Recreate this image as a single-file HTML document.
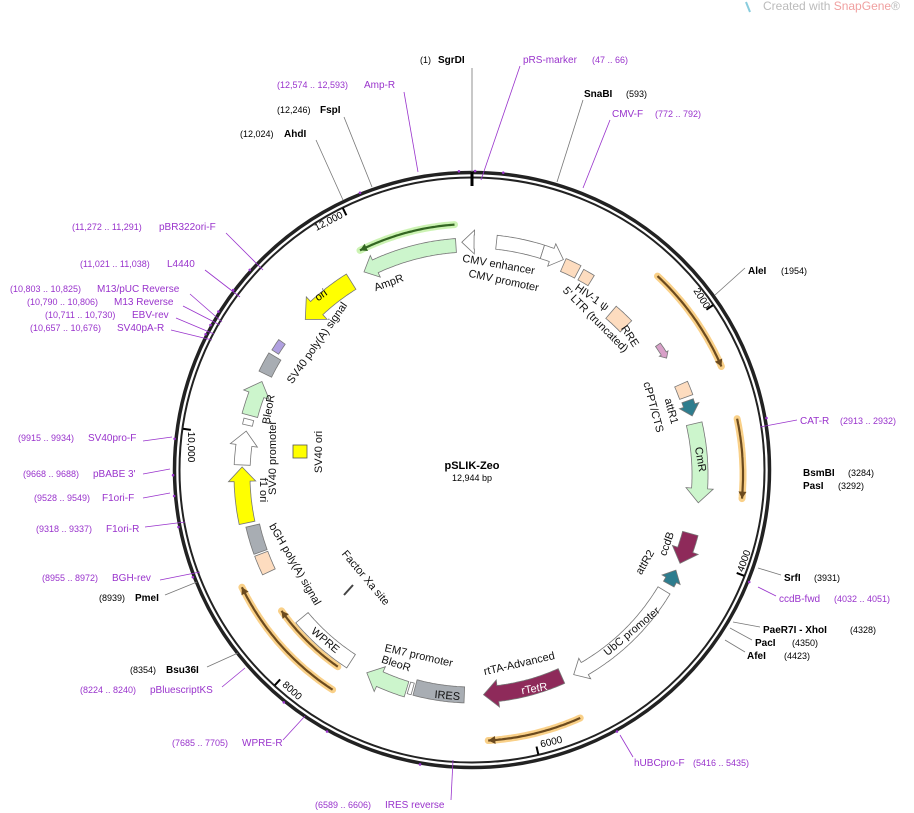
<!DOCTYPE html>
<html><head><meta charset="utf-8"><style>
body{margin:0;background:#fff;width:914px;height:813px;overflow:hidden}
svg{display:block}
text{font-family:"Liberation Sans","DejaVu Sans",sans-serif}
.p{fill:#9933cc;font-size:10px}
.pc{fill:#9933cc;font-size:9px}
.b{fill:#000;font-size:10px;font-weight:bold}
.c{fill:#000;font-size:9px}
.f{fill:#111;font-size:11px}
.lp{stroke:#9933cc;stroke-width:0.8;fill:none}
.lg{stroke:#777;stroke-width:0.8;fill:none}
</style></head><body>
<svg id="s" width="914" height="813" viewBox="0 0 914 813" xmlns="http://www.w3.org/2000/svg">
<text x="763" y="10" font-size="12" fill="#bbb">Created with <tspan fill="#f0a0a0">SnapGene</tspan>®</text>
<path d="M746 2 L750 12" stroke="#8cd" stroke-width="2"/>
<!-- ring -->
<circle cx="472" cy="470" r="297.5" fill="none" stroke="#222" stroke-width="3.5"/>
<circle cx="472" cy="470" r="292.5" fill="none" stroke="#222" stroke-width="2"/>
<line x1="472" y1="172" x2="472" y2="186" stroke="#000" stroke-width="3"/>
<g id="shapes"></g>

<!-- leader lines -->
<line class="lg" x1="472" y1="172" x2="472" y2="68"/>
<path class="lp" d="M481 180 L520 66"/>
<path class="lg" d="M557 182 L583 100"/>
<path class="lp" d="M583 188 L610 120"/>
<path class="lp" d="M404 92 L418 172"/>
<path class="lg" d="M344 117 L372 187"/>
<path class="lg" d="M316 140 L343 200"/>
<path class="lp" d="M226 233 L263 270"/>
<path class="lp" d="M205 270 L240 297"/>
<path class="lp" d="M190 294 L222 322"/>
<path class="lp" d="M183 306 L220 325"/>
<path class="lp" d="M176 318 L214 334"/>
<path class="lp" d="M171 330 L212 340"/>
<path class="lp" d="M143 441 L172 437"/>
<path class="lp" d="M143 474 L170 469"/>
<path class="lp" d="M143 498 L170 493"/>
<path class="lp" d="M145 527 L185 522"/>
<path class="lp" d="M160 580 L200 572"/>
<path class="lg" d="M165 595 L197 582"/>
<path class="lg" d="M207 667 L238 653"/>
<path class="lp" d="M222 687 L245 668"/>
<path class="lp" d="M283 740 L305 716"/>
<path class="lp" d="M451 800 L453 760"/>
<path class="lp" d="M633 757 L620 735"/>
<path class="lg" d="M745 652 L725 640"/>
<path class="lg" d="M752 640 L730 628"/>
<path class="lg" d="M760 627 L733 622"/>
<path class="lp" d="M776 596 L758 587"/>
<path class="lg" d="M781 575 L758 568"/>
<path class="lp" d="M797 420 L760 427"/>
<path class="lg" d="M745 268 L715 295"/>

<!-- outer labels -->
<text x="420" y="63" class="c">(1)</text><text x="438" y="63" class="b">SgrDI</text>
<text x="523" y="63" class="p">pRS-marker</text><text x="592" y="63" class="pc">(47 .. 66)</text>
<text x="584" y="97" class="b">SnaBI</text><text x="626" y="97" class="c">(593)</text>
<text x="612" y="117" class="p">CMV-F</text><text x="655" y="117" class="pc">(772 .. 792)</text>
<text x="277" y="88" class="pc">(12,574 .. 12,593)</text><text x="364" y="88" class="p">Amp-R</text>
<text x="277" y="113" class="c">(12,246)</text><text x="320" y="113" class="b">FspI</text>
<text x="240" y="137" class="c">(12,024)</text><text x="284" y="137" class="b">AhdI</text>
<text x="72" y="230" class="pc">(11,272 .. 11,291)</text><text x="159" y="230" class="p">pBR322ori-F</text>
<text x="80" y="267" class="pc">(11,021 .. 11,038)</text><text x="167" y="267" class="p">L4440</text>
<text x="10" y="292" class="pc">(10,803 .. 10,825)</text><text x="97" y="292" class="p">M13/pUC Reverse</text>
<text x="27" y="305" class="pc">(10,790 .. 10,806)</text><text x="114" y="305" class="p">M13 Reverse</text>
<text x="45" y="318" class="pc">(10,711 .. 10,730)</text><text x="132" y="318" class="p">EBV-rev</text>
<text x="30" y="331" class="pc">(10,657 .. 10,676)</text><text x="117" y="331" class="p">SV40pA-R</text>
<text x="18" y="441" class="pc">(9915 .. 9934)</text><text x="88" y="441" class="p">SV40pro-F</text>
<text x="23" y="477" class="pc">(9668 .. 9688)</text><text x="93" y="477" class="p">pBABE 3'</text>
<text x="34" y="501" class="pc">(9528 .. 9549)</text><text x="102" y="501" class="p">F1ori-F</text>
<text x="36" y="532" class="pc">(9318 .. 9337)</text><text x="106" y="532" class="p">F1ori-R</text>
<text x="42" y="581" class="pc">(8955 .. 8972)</text><text x="112" y="581" class="p">BGH-rev</text>
<text x="99" y="601" class="c">(8939)</text><text x="135" y="601" class="b">PmeI</text>
<text x="130" y="673" class="c">(8354)</text><text x="166" y="673" class="b">Bsu36I</text>
<text x="80" y="693" class="pc">(8224 .. 8240)</text><text x="150" y="693" class="p">pBluescriptKS</text>
<text x="172" y="746" class="pc">(7685 .. 7705)</text><text x="242" y="746" class="p">WPRE-R</text>
<text x="315" y="808" class="pc">(6589 .. 6606)</text><text x="385" y="808" class="p">IRES reverse</text>
<text x="634" y="766" class="p">hUBCpro-F</text><text x="693" y="766" class="pc">(5416 .. 5435)</text>
<text x="747" y="659" class="b">AfeI</text><text x="784" y="659" class="c">(4423)</text>
<text x="755" y="646" class="b">PacI</text><text x="792" y="646" class="c">(4350)</text>
<text x="763" y="633" class="b">PaeR7I - XhoI</text><text x="850" y="633" class="c">(4328)</text>
<text x="779" y="602" class="p">ccdB-fwd</text><text x="834" y="602" class="pc">(4032 .. 4051)</text>
<text x="784" y="581" class="b">SrfI</text><text x="814" y="581" class="c">(3931)</text>
<text x="803" y="476" class="b">BsmBI</text><text x="848" y="476" class="c">(3284)</text>
<text x="803" y="489" class="b">PasI</text><text x="838" y="489" class="c">(3292)</text>
<text x="800" y="424" class="p">CAT-R</text><text x="840" y="424" class="pc">(2913 .. 2932)</text>
<text x="748" y="274" class="b">AleI</text><text x="781" y="274" class="c">(1954)</text>

<!-- tick labels -->
<text font-size="10" transform="translate(699,300) rotate(58)" text-anchor="middle">2000</text>
<text font-size="10" transform="translate(747,562) rotate(-70)" text-anchor="middle">4000</text>
<text font-size="10" transform="translate(552,745) rotate(-13)" text-anchor="middle">6000</text>
<text font-size="10" transform="translate(290,693) rotate(42)" text-anchor="middle">8000</text>
<text font-size="10" transform="translate(188,447) rotate(90)" text-anchor="middle">10,000</text>
<text font-size="10" transform="translate(330,224) rotate(-27)" text-anchor="middle">12,000</text>

<!-- center -->
<text x="472" y="469" text-anchor="middle" font-size="11" font-weight="bold">pSLIK-Zeo</text>
<text x="472" y="481" text-anchor="middle" font-size="9">12,944 bp</text>

<!-- feature labels -->
<text class="f" transform="translate(498,268) rotate(10)" text-anchor="middle">CMV enhancer</text>
<text class="f" transform="translate(503,284) rotate(12)" text-anchor="middle">CMV promoter</text>
<text class="f" transform="translate(390,286) rotate(-20)" text-anchor="middle">AmpR</text>
<text class="f" transform="translate(590,300) rotate(35)" text-anchor="middle">HIV-1 ψ</text>
<text class="f" transform="translate(593,322) rotate(45)" text-anchor="middle">5' LTR (truncated)</text>
<text class="f" transform="translate(627,338) rotate(57)" text-anchor="middle">RRE</text>
<text class="f" transform="translate(650,408) rotate(75)" text-anchor="middle">cPPT/CTS</text>
<text class="f" transform="translate(668,412) rotate(75)" text-anchor="middle">attR1</text>
<text class="f" transform="translate(697,460) rotate(80)" text-anchor="middle">CmR</text>
<text class="f" transform="translate(670,545) rotate(-70)" text-anchor="middle">ccdB</text>
<text class="f" transform="translate(648,564) rotate(-60)" text-anchor="middle">attR2</text>
<text class="f" transform="translate(634,634) rotate(-40)" text-anchor="middle">UbC promoter</text>
<text class="f" transform="translate(520,667) rotate(-13)" text-anchor="middle">rtTA-Advanced</text>
<text class="f" transform="translate(535,692) rotate(-10)" text-anchor="middle" style="fill:#fff">rTetR</text>
<text class="f" transform="translate(447,699) rotate(5)" text-anchor="middle">IRES</text>
<text class="f" transform="translate(418,659) rotate(13)" text-anchor="middle">EM7 promoter</text>
<text class="f" transform="translate(395,667) rotate(18)" text-anchor="middle">BleoR</text>
<text class="f" transform="translate(323,643) rotate(40)" text-anchor="middle">WPRE</text>
<text class="f" transform="translate(292,566) rotate(60)" text-anchor="middle">bGH poly(A) signal</text>
<text class="f" transform="translate(363,580) rotate(50)" text-anchor="middle">Factor Xa site</text>
<text class="f" transform="translate(260,490) rotate(90)" text-anchor="middle">f1 ori</text>
<text class="f" transform="translate(276,458) rotate(-90)" text-anchor="middle">SV40 promoter</text>
<text class="f" transform="translate(272,410) rotate(-80)" text-anchor="middle">BleoR</text>
<text class="f" transform="translate(322,452) rotate(-90)" text-anchor="middle">SV40 ori</text>
<text class="f" transform="translate(320,345) rotate(-55)" text-anchor="middle">SV40 poly(A) signal</text>
<rect x="293" y="445" width="14" height="13" fill="#ffff00" stroke="#555" stroke-width="0.8"/>
<line x1="344" y1="595" x2="353" y2="585" stroke="#444" stroke-width="2"/>
<g id="top"><text transform="translate(323,298) rotate(-35)" text-anchor="middle" font-size="11">ori</text></g>
</svg>
<script>
var cx=472,cy=475,NS="http://www.w3.org/2000/svg";
function P(r,a,c){a=a*Math.PI/180;return [cx+r*Math.sin(a),(c||cy)-r*Math.cos(a)];}
function pts(r,a1,a2){var o=[],n=Math.max(2,Math.ceil(Math.abs(a2-a1)*2));for(var i=0;i<=n;i++)o.push(P(r,a1+(a2-a1)*i/n));return o;}
function add(g,tag,attrs){var e=document.createElementNS(NS,tag);for(var k in attrs)e.setAttribute(k,attrs[k]);document.getElementById(g).appendChild(e);return e;}
function poly(list){return list.map(function(p){return p[0].toFixed(1)+","+p[1].toFixed(1)}).join(" ");}
function feat(r,w,a1,a2,head,fill,stroke){
 var h=w*0.9/r*180/Math.PI, list=[];
 if(head==1){var e=a2-h;list=pts(r+w/2,a1,e);list.push(P(r+w*0.85,e));list.push(P(r,a2));list.push(P(r-w*0.85,e));list=list.concat(pts(r-w/2,e,a1));}
 else if(head==-1){var s=a1+h;list=[P(r,a1),P(r+w*0.85,s)].concat(pts(r+w/2,s,a2)).concat(pts(r-w/2,a2,s));list.push(P(r-w*0.85,s));}
 else{list=pts(r+w/2,a1,a2).concat(pts(r-w/2,a2,a1));}
 add("shapes","polygon",{points:poly(list),fill:fill,stroke:stroke||"#777","stroke-width":0.8});
}
function primer(r,a1,a2,head,col,glow){
 var d="M"+poly(pts(r,a1,a2)).split(" ").join(" L");
 add("shapes","path",{d:d,stroke:glow,"stroke-width":7,fill:"none","stroke-linecap":"round",opacity:0.8});
 add("shapes","path",{d:d,stroke:col,"stroke-width":2.2,fill:"none"});
 var t=head==1?a2:a1, b=head==1?a2-7*180/Math.PI/r:a1+7*180/Math.PI/r;
 add("shapes","polygon",{points:poly([P(r+4,b),P(r,t),P(r-4,b)]),fill:col});
}
[2000,4000,6000,8000,10000,12000].forEach(function(b){var a=b/12944*360;var p1=P(284,a,470),p2=P(292,a,470);add("shapes","line",{x1:p1[0],y1:p1[1],x2:p2[0],y2:p2[1],stroke:"#000","stroke-width":2});});
[0.6,6,-2.5,-22,-48,-53,-58,-61,-63,-84,-91,-95,-101,-111,-141,-151,-170,80,112,151].forEach(function(a){var p=P(299,a,470);add("shapes","circle",{cx:p[0],cy:p[1],r:1.3,fill:"#9933cc"});});
primer(272,43,66.5,1,"#6b4a1e","#f8c46a");
primer(271,78,95,1,"#6b4a1e","#f8c46a");
primer(266,156,176.5,1,"#6b4a1e","#f8c46a");
primer(256,213,244,1,"#6b4a1e","#f8c46a");
primer(234,215,234.5,1,"#6b4a1e","#f8c46a");
primer(251,-26.5,-4,-1,"#336622","#bff0a0");
feat(230,14,-28,-4,-1,"#ccf5cc");
feat(233,14,-2.5,0.5,-1,"#fff");
feat(234,14,6,17.5,0,"#fff");
feat(234,14,17.5,23,1,"#fff");
feat(229,14,23.5,27.5,0,"#fddcbf");
feat(228,12,28.5,31.5,0,"#fddcbf");
feat(214,16,40.5,46,0,"#fddcbf");
feat(227,6,55,59,1,"#d8a0c8");
feat(228,14,66.5,70,0,"#fddcbf");
feat(228,12,71,75,1,"#2e7d8e");
feat(228,16,77,97,1,"#ccf5cc");
feat(226,16,105,113,1,"#8e2a5a");
feat(225,12,115,119,-1,"#2e7d8e");
feat(224,14,121,153,1,"#fff");
feat(220,16,156,177,1,"#8e2a5a");
feat(220,16,182,195,0,"#a8adb3");
feat(222,12,195.5,196.5,0,"#fff");
feat(224,16,197,208,1,"#ccf5cc");
feat(222,16,213,230,0,"#fff");
feat(225,14,244.5,249.5,0,"#fddcbf");
feat(225,14,250,257,0,"#a8adb3");
feat(230,16,258,272,1,"#ffff00");
feat(230,16,272.5,281,1,"#fff");
feat(230,10,282.5,284,0,"#fff");
feat(230,16,285,294,1,"#ccf5cc");
feat(230,14,296,301,0,"#a8adb3");
feat(232,8,302,305,0,"#b0a0e0");
feat(228,18,313,328,-1,"#ffff00");
</script>
</body></html>
